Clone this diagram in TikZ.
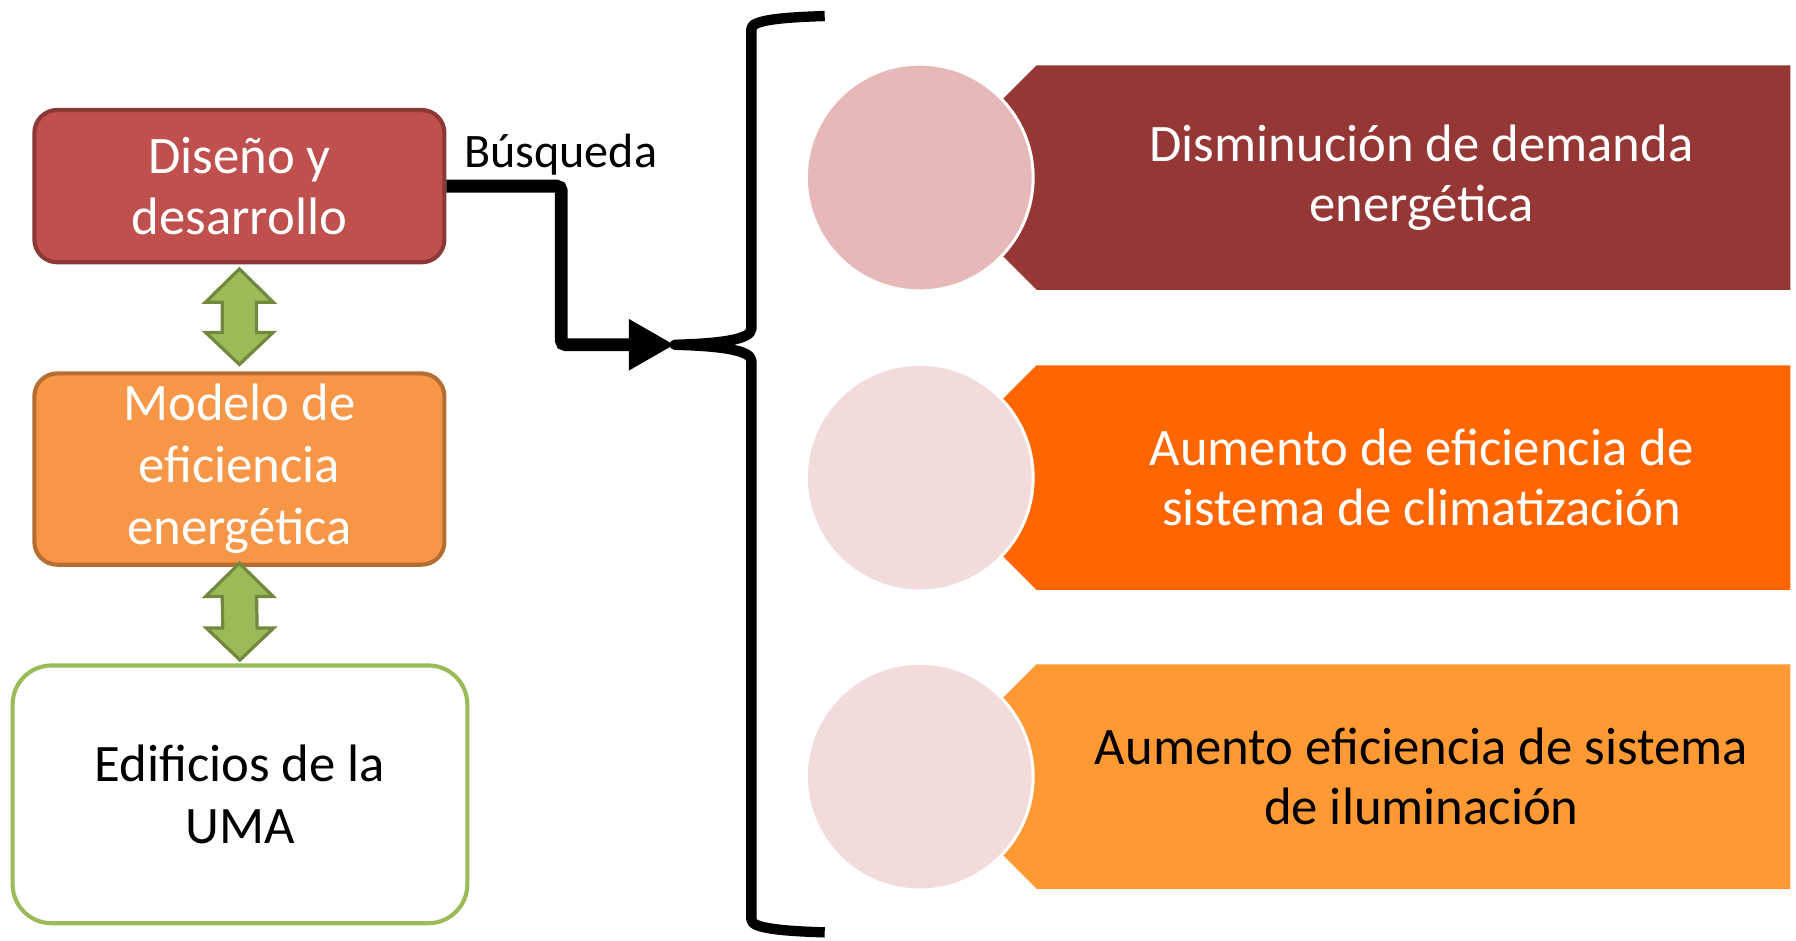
\documentclass[tikz,border=0pt]{standalone}
\usepackage{fontspec}
\setmainfont{Carlito}
\usetikzlibrary{calc,arrows.meta}
\definecolor{redfill}{HTML}{C0504D}
\definecolor{redline}{HTML}{8C3836}
\definecolor{orangefill}{HTML}{F79646}
\definecolor{orangeline}{HTML}{B66D31}
\definecolor{greenfill}{HTML}{9BBB59}
\definecolor{greenline}{HTML}{71893F}
\definecolor{band1}{HTML}{953735}
\definecolor{band2}{HTML}{FF6600}
\definecolor{band3}{HTML}{FF9933}
\definecolor{circ1}{HTML}{E6B9B8}
\definecolor{circ2}{HTML}{F2DCDB}
\tikzset{box/.style={draw, rounded corners=10pt, line width=1.8pt, align=center, inner sep=0pt, font=\fontsize{23pt}{27pt}\selectfont},
  twoarrow/.style={fill=greenfill, draw=greenline, line width=1.4pt, line join=miter},
  link/.style={line width=5.6pt, rounded corners=2pt, -{Triangle[length=20pt,width=21pt]}},
  bracket/.style={line width=4.5pt, line join=round},
  rowtext/.style={align=center, font=\fontsize{23pt}{26pt}\selectfont}}
\newcommand\twoway[2]{\draw[twoarrow] (#1) -- ++(-29.5,-29) -- ++(14.5,0) -- ($(#2)+(-15,28)$) -- ++(-14.5,0) -- (#2)
  -- ++(29.5,28) -- ++(-14.5,0) -- ($(#1)+(15,-29)$) -- ++(14.5,0) -- cycle;}

\begin{document}
\begin{tikzpicture}[x=0.5pt,y=0.5pt]
  \useasboundingbox (0,0) rectangle (1568,821);
  % left column
  \node[box, fill=redfill, draw=redline, text=white, minimum width=179pt, minimum height=66.5pt] (red) at (209,658.5) {Diseño y\\desarrollo};
  \node[box, fill=orangefill, draw=orangeline, text=white, minimum width=179pt, minimum height=83.5pt] (orange) at (209,411.5) {Modelo de\\eficiencia\\energética};
  \node[box, draw=greenfill, rounded corners=17pt, minimum width=198.5pt, minimum height=112.5pt] (uma) at (209.5,127.5) {Edificios de la\\UMA};
  \coordinate (a1) at ($(red.south)+(0,-4)$);
  \coordinate (b1) at ($(orange.north)+(0,6)$);
  \coordinate (a2) at ($(orange.south)+(0,3)$);
  \coordinate (b2) at ($(uma.north)+(0,3)$);
  \twoway{a1}{b1}
  \twoway{a2}{b2}
  % brace
  \coordinate (bracetip) at (589,520);
  \draw[bracket] (720,807) .. controls (688,806) and (656,804) .. (656,796) -- (656,534)
    .. controls (656,524) and (625,521) .. (bracetip) .. controls (625,519) and (656,516) .. (656,506)
    -- (656,18) .. controls (656,10) and (688,8) .. (720,7);
  \draw[link] (red.east) -| ($(bracetip)+(-99,0)$) -- (bracetip);
  \node[anchor=base west, inner sep=0pt, font=\fontsize{21pt}{25pt}\selectfont] (search) at ($(red.east)+(15,16.5)$) {Búsqueda};
  % right rows
  \foreach \i/\yc/\bandcol/\circcol/\txtcol/\txt in {1/666/band1/circ1/white/{Disminución de demanda\\energética},
      2/404/band2/circ2/white/{Aumento de eficiencia de\\sistema de climatización},
      3/143/band3/circ2/black/{Aumento eficiencia de sistema\\de iluminación}}{
    \fill[\bandcol] (807,\yc) -- (905,\yc+98) -- (1563,\yc+98) -- (1563,\yc-98) -- (905,\yc-98) -- cycle;
    \node[circle, fill=\circcol, draw=white, line width=1.3pt, minimum size=99pt, inner sep=0pt] (circ\i) at (803,\yc) {};
    \node[rowtext, text=\txtcol] (txt\i) at (1241,\yc) {\txt};
  }
\end{tikzpicture}
\end{document}
